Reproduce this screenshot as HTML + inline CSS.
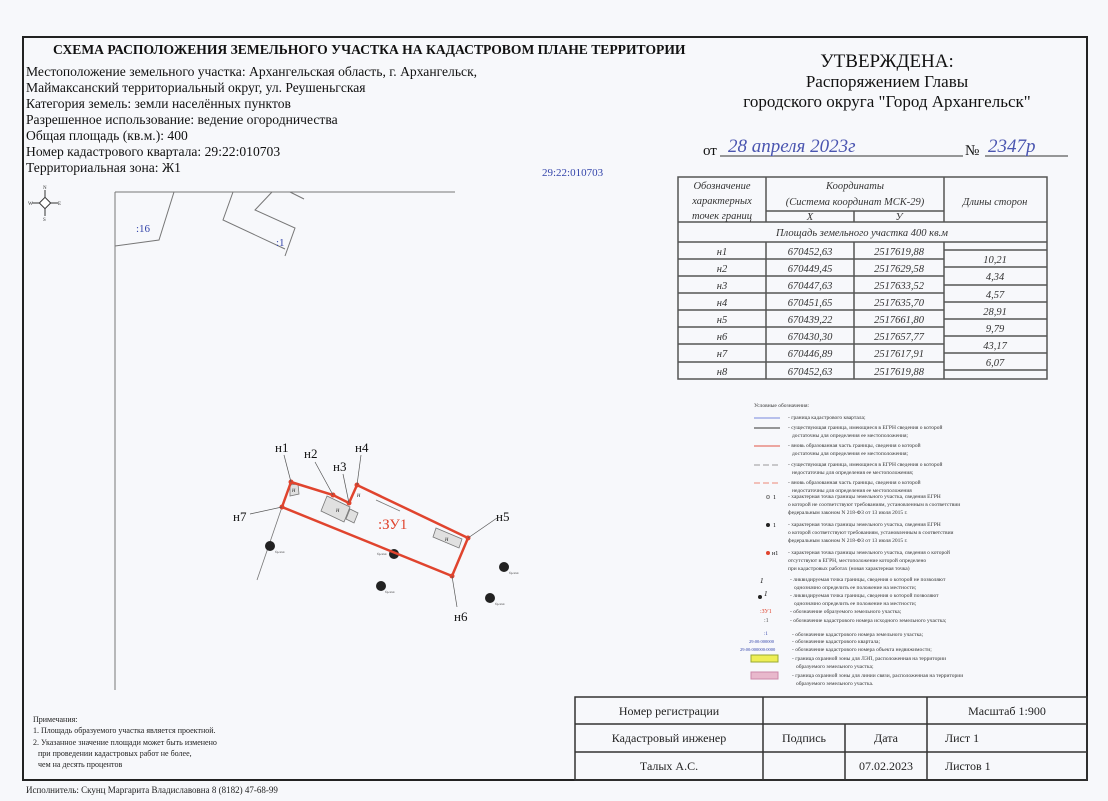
<!DOCTYPE html>
<html><head><meta charset="utf-8"><style>
html,body{margin:0;padding:0;background:#f7f8fb;}
svg{display:block;font-family:"Liberation Serif",serif;}
</style></head><body>
<svg width="1108" height="801" viewBox="0 0 1108 801" xmlns="http://www.w3.org/2000/svg">
<rect width="1108" height="801" fill="#f7f8fb"/>
<rect x="23" y="37" width="1064" height="743" fill="none" stroke="#222" stroke-width="2"/>
<text x="53" y="54" font-size="13.6" font-weight="bold" fill="#111">СХЕМА РАСПОЛОЖЕНИЯ ЗЕМЕЛЬНОГО УЧАСТКА НА КАДАСТРОВОМ ПЛАНЕ ТЕРРИТОРИИ</text>
<g font-size="13.6" fill="#111">
<text x="26" y="76">Местоположение земельного участка: Архангельская область, г. Архангельск,</text>
<text x="26" y="92">Маймаксанский территориальный округ, ул. Реушеньгская</text>
<text x="26" y="108">Категория земель: земли населённых пунктов</text>
<text x="26" y="124">Разрешенное использование: ведение огородничества</text>
<text x="26" y="140">Общая площадь (кв.м.): 400</text>
<text x="26" y="156">Номер кадастрового квартала: 29:22:010703</text>
<text x="26" y="172">Территориальная зона: Ж1</text>
</g>
<text x="542" y="176" font-size="11" fill="#3344aa">29:22:010703</text>
<g fill="#111" text-anchor="middle">
<text x="887" y="67" font-size="19">УТВЕРЖДЕНА:</text>
<text x="887" y="87" font-size="17">Распоряжением Главы</text>
<text x="887" y="107" font-size="17">городского округа "Город Архангельск"</text>
</g>
<text x="703" y="155" font-size="15" fill="#111">от</text>
<line x1="720" y1="156" x2="963" y2="156" stroke="#333"/>
<text x="728" y="152" font-size="19" fill="#4a55b0" font-style="italic">28 апреля 2023г</text>
<text x="965" y="155" font-size="15" fill="#111">№</text>
<line x1="985" y1="156" x2="1068" y2="156" stroke="#333"/>
<text x="988" y="152" font-size="19" fill="#4a55b0" font-style="italic">2347р</text>
<g stroke="#333" fill="none" stroke-width="1">
<line x1="45" y1="190" x2="45" y2="216"/><line x1="32" y1="203" x2="58" y2="203"/>
<rect x="41" y="199" width="8" height="8" transform="rotate(45 45 203)" fill="#fff"/>
</g>
<g font-size="5" fill="#333"><text x="43" y="189">N</text><text x="43" y="221">S</text><text x="28" y="205">W</text><text x="58" y="205">E</text></g>
<g stroke="#777" fill="none" stroke-width="1">
<line x1="115" y1="192" x2="455" y2="192"/>
<line x1="115" y1="192" x2="115" y2="690"/>
<polyline points="174,192 159,240 115,246"/>
<polyline points="233,192 223,220 285,249"/>
<polyline points="272,192 255,210 295,228 285,256"/>
<line x1="290" y1="192" x2="304" y2="199"/>
</g>
<text x="136" y="232" font-size="11" fill="#3344aa">:16</text>
<text x="276" y="246" font-size="11" fill="#3344aa">:1</text>
<g stroke="#777" fill="#e0e0e0" stroke-width="0.8">
<polygon points="290,485 298,484 299,494 290,496"/>
<polygon points="327,496 350,507 344,522 321,511"/>
<polygon points="350,509 358,513 354,523 346,519"/>
<polygon points="436,528 462,539 459,548 433,537"/>
</g>
<g font-size="7" font-style="italic" fill="#333"><text x="292" y="492">н</text><text x="336" y="512">н</text><text x="445" y="541">н</text><text x="357" y="497">н</text></g>
<g stroke="#777" stroke-width="0.8">
<line x1="282" y1="507" x2="257" y2="580"/>
<line x1="376" y1="500" x2="400" y2="511"/>
</g>
<g fill="#222">
<circle cx="270" cy="546" r="5"/><circle cx="394" cy="554" r="5"/><circle cx="381" cy="586" r="5"/><circle cx="504" cy="567" r="5"/><circle cx="490" cy="598" r="5"/>
</g>
<g font-size="3.5" fill="#333"><text x="275" y="553">бр.ххх</text><text x="377" y="555">бр.ххх</text><text x="385" y="593">бр.ххх</text><text x="509" y="574">бр.ххх</text><text x="495" y="605">бр.ххх</text></g>
<polygon points="291,482 333,495 349,503 357,485 468,538 452,576 282,507" fill="none" stroke="#e0442e" stroke-width="2.5"/>
<g fill="#e0442e"><circle cx="291" cy="482" r="2.5"/><circle cx="333" cy="495" r="2.5"/><circle cx="349" cy="503" r="2.5"/><circle cx="357" cy="485" r="2.5"/><circle cx="468" cy="538" r="2.5"/><circle cx="452" cy="576" r="2.5"/><circle cx="282" cy="507" r="2.5"/></g>
<g stroke="#555" stroke-width="0.7">
<line x1="291" y1="482" x2="284" y2="455"/><line x1="333" y1="495" x2="315" y2="462"/><line x1="349" y1="503" x2="343" y2="474"/><line x1="357" y1="485" x2="361" y2="455"/><line x1="468" y1="538" x2="497" y2="518"/><line x1="452" y1="576" x2="457" y2="607"/><line x1="282" y1="507" x2="250" y2="514"/>
</g>
<g font-size="13" fill="#111">
<text x="275" y="452">н1</text><text x="304" y="458">н2</text><text x="333" y="471">н3</text><text x="355" y="452">н4</text><text x="496" y="521">н5</text><text x="454" y="621">н6</text><text x="233" y="521">н7</text>
</g>
<text x="378" y="529" font-size="15" fill="#e0442e">:ЗУ1</text>
<g stroke="#555" fill="none" stroke-width="1.5">
<rect x="678" y="177" width="369" height="202"/>
<line x1="766" y1="177" x2="766" y2="222"/>
<line x1="944" y1="177" x2="944" y2="222"/>
<line x1="766" y1="211" x2="944" y2="211"/>
<line x1="854" y1="211" x2="854" y2="222"/>
<line x1="678" y1="222" x2="1047" y2="222"/>
<line x1="678" y1="242" x2="1047" y2="242"/>
<line x1="766" y1="242" x2="766" y2="379"/>
<line x1="854" y1="242" x2="854" y2="379"/>
<line x1="944" y1="242" x2="944" y2="379"/>
<line x1="678" y1="259" x2="944" y2="259"/><line x1="678" y1="276" x2="944" y2="276"/><line x1="678" y1="293" x2="944" y2="293"/><line x1="678" y1="310" x2="944" y2="310"/><line x1="678" y1="327" x2="944" y2="327"/><line x1="678" y1="344" x2="944" y2="344"/><line x1="678" y1="362" x2="944" y2="362"/>
<line x1="944" y1="250" x2="1047" y2="250"/><line x1="944" y1="267" x2="1047" y2="267"/><line x1="944" y1="285" x2="1047" y2="285"/><line x1="944" y1="302" x2="1047" y2="302"/><line x1="944" y1="319" x2="1047" y2="319"/><line x1="944" y1="336" x2="1047" y2="336"/><line x1="944" y1="353" x2="1047" y2="353"/><line x1="944" y1="370" x2="1047" y2="370"/>
</g>
<g font-size="10.5" font-style="italic" fill="#333" text-anchor="middle">
<text x="722" y="189">Обозначение</text><text x="722" y="204">характерных</text><text x="722" y="219">точек границ</text>
<text x="855" y="189">Координаты</text><text x="855" y="205">(Система координат МСК-29)</text>
<text x="810" y="220">X</text><text x="899" y="220">У</text>
<text x="995" y="205">Длины сторон</text>
<text x="862" y="236">Площадь земельного участка 400 кв.м</text>
<text x="722" y="255">н1</text><text x="810" y="255">670452,63</text><text x="899" y="255">2517619,88</text>
<text x="722" y="272">н2</text><text x="810" y="272">670449,45</text><text x="899" y="272">2517629,58</text>
<text x="722" y="289">н3</text><text x="810" y="289">670447,63</text><text x="899" y="289">2517633,52</text>
<text x="722" y="306">н4</text><text x="810" y="306">670451,65</text><text x="899" y="306">2517635,70</text>
<text x="722" y="323">н5</text><text x="810" y="323">670439,22</text><text x="899" y="323">2517661,80</text>
<text x="722" y="340">н6</text><text x="810" y="340">670430,30</text><text x="899" y="340">2517657,77</text>
<text x="722" y="357">н7</text><text x="810" y="357">670446,89</text><text x="899" y="357">2517617,91</text>
<text x="722" y="375">н8</text><text x="810" y="375">670452,63</text><text x="899" y="375">2517619,88</text>
<text x="995" y="263">10,21</text><text x="995" y="280">4,34</text><text x="995" y="298">4,57</text><text x="995" y="315">28,91</text><text x="995" y="332">9,79</text><text x="995" y="349">43,17</text><text x="995" y="366">6,07</text>
</g>
<g font-size="5.5" fill="#333">
<text x="754" y="407">Условные обозначения:</text>
<text x="788" y="419">- граница кадастрового квартала;</text>
<text x="788" y="429">- существующая граница, имеющиеся в ЕГРН сведения о которой</text><text x="792" y="437">достаточны для определения ее местоположения;</text>
<text x="788" y="447">- вновь образованная часть границы, сведения о которой</text><text x="792" y="455">достаточны для определения ее местоположения;</text>
<text x="788" y="466">- существующая граница, имеющиеся в ЕГРН сведения о которой</text><text x="792" y="474">недостаточны для определения ее местоположения;</text>
<text x="788" y="484">- вновь образованная часть границы, сведения о которой</text><text x="792" y="492">недостаточны для определения ее местоположения</text>
<text x="788" y="498">- характерная точка границы земельного участка, сведения ЕГРН</text><text x="788" y="506">о которой не соответствуют требованиям, установленным в соответствии</text><text x="788" y="514">федеральным законом N 218-ФЗ от 13 июля 2015 г.</text>
<text x="788" y="526">- характерная точка границы земельного участка, сведения ЕГРН</text><text x="788" y="534">о которой соответствуют требованиям, установленным в соответствии</text><text x="788" y="542">федеральным законом N 218-ФЗ от 13 июля 2015 г.</text>
<text x="788" y="554">- характерная точка границы земельного участка, сведения о которой</text><text x="788" y="562">отсутствуют в ЕГРН, местоположение которой определено</text><text x="788" y="570">при кадастровых работах (новая характерная точка)</text>
<text x="790" y="581">- ликвидируемая точка границы, сведения о которой не позволяют</text><text x="794" y="589">однозначно определить ее положение на местности;</text>
<text x="790" y="597">- ликвидируемая точка границы, сведения о которой позволяют</text><text x="794" y="605">однозначно определить ее положение на местности;</text>
<text x="790" y="613">- обозначение образуемого земельного участка;</text>
<text x="790" y="622">- обозначение кадастрового номера исходного земельного участка;</text>
<text x="792" y="636">- обозначение кадастрового номера земельного участка;</text>
<text x="792" y="643">- обозначение кадастрового квартала;</text>
<text x="792" y="651">- обозначение кадастрового номера объекта недвижимости;</text>
<text x="792" y="660">- граница охранной зоны для ЛЭП, расположенная на территории</text><text x="796" y="668">образуемого земельного участка;</text>
<text x="792" y="677">- граница охранной зоны для линии связи, расположенная на территории</text><text x="796" y="685">образуемого земельного участка.</text>
</g>
<g stroke-width="1">
<line x1="754" y1="418" x2="780" y2="418" stroke="#7788dd"/>
<line x1="754" y1="428" x2="780" y2="428" stroke="#333"/>
<line x1="754" y1="446" x2="780" y2="446" stroke="#e05544"/>
<line x1="754" y1="465" x2="780" y2="465" stroke="#999" stroke-dasharray="6,3"/>
<line x1="754" y1="483" x2="780" y2="483" stroke="#ee8877" stroke-dasharray="6,3"/>
</g>
<circle cx="768" cy="497" r="1.5" fill="none" stroke="#888"/><text x="773" y="499" font-size="6">1</text>
<circle cx="768" cy="525" r="2" fill="#222"/><text x="773" y="527" font-size="6">1</text>
<circle cx="768" cy="553" r="2" fill="#e0442e"/><text x="772" y="555" font-size="6">н1</text>
<text x="760" y="583" font-size="7" font-style="italic">1</text>
<circle cx="760" cy="597" r="2" fill="#222"/><text x="764" y="596" font-size="7" font-style="italic">1</text>
<text x="760" y="613" font-size="6" fill="#e0442e">:ЗУ1</text>
<text x="764" y="622" font-size="6" fill="#555">:1</text>
<text x="764" y="635" font-size="5" fill="#3344aa">:1</text>
<text x="749" y="643" font-size="4.5" fill="#3344aa">29:00:000000</text>
<text x="740" y="651" font-size="4.5" fill="#3344aa">29:00:000000:0000</text>
<rect x="751" y="655" width="27" height="7" fill="#eeee55" stroke="#99aa33"/>
<rect x="751" y="672" width="27" height="7" fill="#e8b8cc" stroke="#cc88aa"/>
<g font-size="8" fill="#222">
<text x="33" y="722">Примечания:</text>
<text x="33" y="733">1. Площадь образуемого участка является проектной.</text>
<text x="33" y="745">2. Указанное значение площади может быть изменено</text>
<text x="38" y="756">при проведении кадастровых работ не более,</text>
<text x="38" y="767">чем на десять процентов</text>
</g>
<text x="26" y="793" font-size="9" fill="#222">Исполнитель: Скунц Маргарита Владиславовна 8 (8182) 47-68-99</text>
<g stroke="#333" stroke-width="1.5" fill="none">
<rect x="575" y="697" width="512" height="83"/>
<line x1="575" y1="724" x2="1087" y2="724"/>
<line x1="575" y1="752" x2="1087" y2="752"/>
<line x1="763" y1="697" x2="763" y2="780"/>
<line x1="845" y1="724" x2="845" y2="780"/>
<line x1="927" y1="697" x2="927" y2="780"/>
</g>
<g font-size="12" fill="#222" text-anchor="middle">
<text x="669" y="715">Номер регистрации</text>
<text x="1007" y="715">Масштаб 1:900</text>
<text x="669" y="742">Кадастровый инженер</text>
<text x="804" y="742">Подпись</text>
<text x="886" y="742">Дата</text>
<text x="669" y="770">Талых А.С.</text>
<text x="886" y="770">07.02.2023</text>
</g>
<g font-size="12" fill="#222">
<text x="945" y="742">Лист 1</text>
<text x="945" y="770">Листов 1</text>
</g>
</svg>
</body></html>
